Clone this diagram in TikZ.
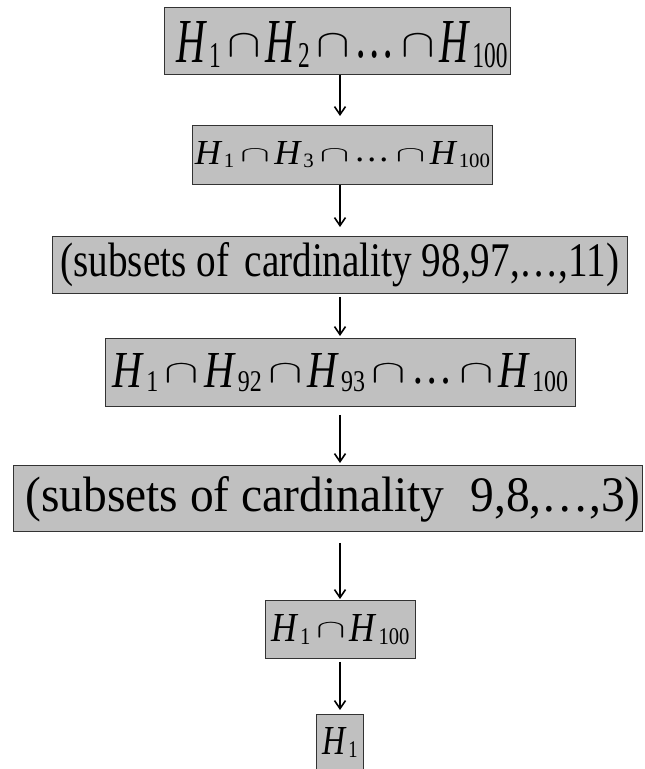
\documentclass[tikz,border=0pt]{standalone}
\usepackage{fontspec}
\setmainfont{LiberationSerif-Regular.ttf}[ItalicFont=LiberationSerif-Italic.ttf]
\usepackage{graphicx}
\usetikzlibrary{arrows.meta}
\definecolor{boxfill}{HTML}{C0C0C0}
\definecolor{boxline}{HTML}{333333}
\newcommand{\Hs}[1]{\textit{H}\kern.04em\raisebox{-.08em}{\scalebox{.58}{#1}}}
\newcommand{\ca}{\kern.16em\raisebox{.09em}{\scalebox{1.25}[.62]{$\cap$}}\kern.12em}
\newcommand{\dd}{\raisebox{.08em}{…}}
\begin{document}
\begin{tikzpicture}[x=1pt,y=1pt,
  boxnode/.style={draw=boxline, line width=1pt, fill=boxfill, inner sep=0pt,
    anchor=south west, align=center},
  arr/.style={line width=1.6pt, -{Straight Barb[length=8pt,width=11pt]}}]
\useasboundingbox (0,0) rectangle (645,769);
\coordinate (ax) at (340,0);
\node[boxnode, minimum width=346pt, text height=55pt, text depth=12pt] (b1) at (164,694)
  {\hspace*{9pt}\resizebox{331pt}{41pt}{\Hs{1}\ca\Hs{2}\ca\dd\ca\Hs{100}}};
\node[boxnode, minimum width=300pt, text height=39pt, text depth=20pt] (b2) at (192,584)
  {\resizebox{295pt}{23pt}{\Hs{1}\ca\Hs{3}\ca\dd\ca\Hs{100}}};
\node[boxnode, minimum width=575pt, text height=40pt, text depth=17pt] (b3) at (52,475)
  {\resizebox{559pt}{34pt}{(subsets of\hspace{.15em} cardinality 98,97,…,11)}};
\node[boxnode, minimum width=470pt, text height=49pt, text depth=19pt] (b4) at (105,362)
  {\resizebox{455pt}{34pt}{\Hs{1}\ca\Hs{92}\ca\Hs{93}\ca\dd\ca\Hs{100}}};
\node[boxnode, minimum width=629pt, text height=46pt, text depth=20pt] (b5) at (13,237)
  {\hspace*{10pt}\resizebox{615pt}{35pt}{(subsets of cardinality\hspace{.3em} 9,8,…,3)}};
\node[boxnode, minimum width=150pt, text height=41pt, text depth=17pt] (b6) at (265,110)
  {\resizebox{138pt}{27pt}{\Hs{1}\ca\Hs{100}}};
\node[boxnode, minimum width=47pt, text height=40pt, text depth=15pt] (b7) at (316,-1)
  {\resizebox{35pt}{27pt}{\Hs{1}}};
\draw[arr, shorten >=9pt] (b1.south -| ax) -- (b2.north -| ax);
\draw[arr, shorten >=9pt] (b2.south -| ax) -- (b3.north -| ax);
\draw[arr, shorten <=3pt, shorten >=2pt] (b3.south -| ax) -- (b4.north -| ax);
\draw[arr, shorten <=8pt, shorten >=2pt] (b4.south -| ax) -- (b5.north -| ax);
\draw[arr, shorten <=11pt, shorten >=1pt] (b5.south -| ax) -- (b6.north -| ax);
\draw[arr, shorten <=3pt, shorten >=4pt] (b6.south -| ax) -- (b7.north -| ax);
\end{tikzpicture}
\end{document}
